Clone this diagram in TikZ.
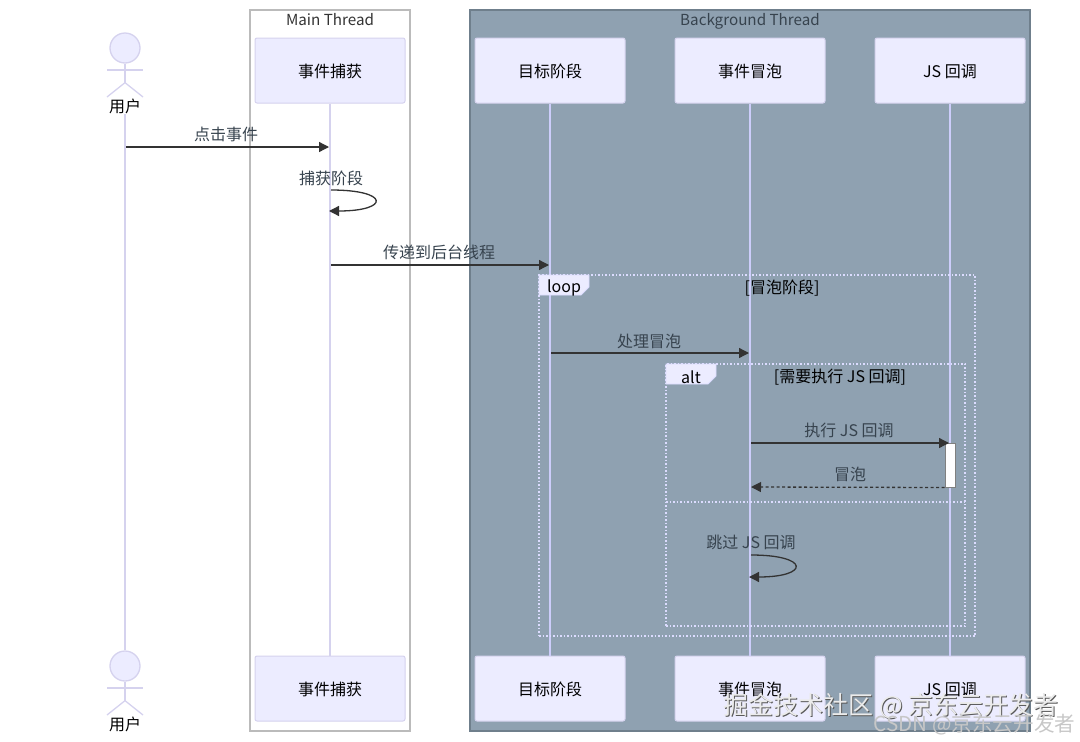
\documentclass[tikz,border=0pt]{standalone}
\usepackage{fontspec}
\usepackage{xcolor}
\usepackage{tikz}
\usetikzlibrary{arrows.meta,positioning,calc}
\setmainfont{Noto Sans CJK SC}
\definecolor{actorfill}{HTML}{ECECFF}
\definecolor{actorline}{HTML}{D5D2EE}
\definecolor{threadgray}{HTML}{BBBBBB}
\definecolor{threadfill}{HTML}{8FA1B1}
\definecolor{threadedge}{HTML}{6F7F8C}
\definecolor{lifeblue}{HTML}{CDCDFB}
\definecolor{frameblue}{HTML}{DCDCFF}
\definecolor{msgdark}{HTML}{333333}
\definecolor{msgtext}{HTML}{37434E}

\begin{document}
\begin{tikzpicture}[x=1pt,y=-1pt,
    txt/.style={inner sep=0pt,font=\fontsize{16}{18}\selectfont},
    titletxt/.style={inner sep=0pt,anchor=base,font=\fontsize{15.2}{18}\selectfont},
    stagebox/.style={txt,draw=actorline,line width=1pt,fill=actorfill,rounded corners=2pt,
        minimum width=150pt,minimum height=65pt,text=black,text depth=0pt},
    lifeline/.style={draw=lifeblue,line width=1.3pt},
    msg/.style={draw=msgdark,line width=1.3pt,-{Triangle[length=10pt,width=10pt]}},
    msgreply/.style={msg,dash pattern=on 3pt off 2.5pt},
    msglabel/.style={txt,text=msgtext},
    dotframe/.style={draw=frameblue,line width=1.5pt,dash pattern=on 1.5pt off 2pt},
    fragtag/.style={draw=frameblue,line width=0.8pt,fill=actorfill},
    stickman/.style={draw=actorline,line width=1.3pt},
    actorhead/.style={circle,draw=actorline,line width=1.3pt,fill=actorfill,minimum size=30pt,inner sep=0pt}
]
\useasboundingbox (0,0) rectangle (1080,742);

% thread panels
\node[draw=threadgray,line width=1.2pt,fill=white,minimum width=160pt,minimum height=721pt,inner sep=0pt] (mainpanel) at (330,370.5) {};
\node[draw=threadedge,line width=1.2pt,fill=threadfill,minimum width=560pt,minimum height=721pt,inner sep=0pt] (bgpanel) at (750,370.5) {};
\node[titletxt,text=msgdark] (maintitle) at (330,25) {Main Thread};
\node[titletxt,text=msgtext] (bgtitle) at (750,25) {Background Thread};

% top row
\node[actorhead] (userhead) at (125,48) {};
\node[txt,text=black] (usertop) at (125,106.5) {用户};
\node[stagebox] (capture) at (330,70.5) {事件捕获};
\node[stagebox] (target) at (550,70.5) {目标阶段};
\node[stagebox] (bubble) at (750,70.5) {事件冒泡};
\node[stagebox] (jscb) at (950,70.5) {JS 回调};

% bottom row
\node[actorhead] (userfoot) at (125,666) {};
\node[txt,text=black] (userbottom) at (125,724.5) {用户};
\node[stagebox] (capture2) at (330,688.5) {事件捕获};
\node[stagebox] (target2) at (550,688.5) {目标阶段};
\node[stagebox] (bubble2) at (750,688.5) {事件冒泡};
\node[stagebox] (jscb2) at (950,688.5) {JS 回调};

% stick figures
\draw[stickman] (userhead.south) -- ++(0,19) coordinate (hipA);
\draw[stickman] (107,70) -- (143,70);
\draw[stickman] (107,97) -- (hipA) -- (143,97);
\draw[stickman] (userfoot.south) -- ++(0,19) coordinate (hipB);
\draw[stickman] (107,688) -- (143,688);
\draw[stickman] (107,715) -- (hipB) -- (143,715);

% lifelines
\draw[lifeline,draw=actorline] (usertop.south) -- (userfoot.north);
\draw[lifeline,draw=actorline] (capture.south) -- (capture2.north);
\draw[lifeline] (target.south) -- (target2.north);
\draw[lifeline] (bubble.south) -- (bubble2.north);
\draw[lifeline] (jscb.south) -- (jscb2.north);

% loop and alt frames
\node[minimum width=436pt,minimum height=361pt,inner sep=0pt,dotframe] (loopframe) at (757,455.5) {};
\node[minimum width=299pt,minimum height=262pt,inner sep=0pt,dotframe] (altframe) at (815.5,495) {};
\coordinate (altsplitL) at (666,502);
\coordinate (altsplitR) at (965,502);
\draw[dotframe] (altsplitL) -- (altsplitR);
\draw[fragtag] (539,275) -- (589,275) -- (589,287) -- (581,295) -- (539,295) -- cycle;
\draw[fragtag] (666,364) -- (716,364) -- (716,376) -- (708,384) -- (666,384) -- cycle;
\node[txt,text=black] (looptag) at (564,288) {loop};
\node[txt,text=black] (alttag) at (691,377) {alt};
\node[txt,text=black] (loopcond) at (782,288) {[冒泡阶段]};
\node[txt,text=black] (altcond) at (840,377) {[需要执行 JS 回调]};

% messages
\coordinate (clickA) at (126,147);
\coordinate (clickB) at (329,147);
\draw[msg] (clickA) -- (clickB);
\node[msglabel] (clicktxt) at (226,134) {点击事件};

\coordinate (selfA) at (331,190);
\coordinate (selfB) at (329,211);
\draw[msg] (selfA) .. controls (390,190) and (390,211) .. (selfB);
\node[msglabel] (selftxt) at (331,178) {捕获阶段};

\coordinate (passA) at (331,265);
\coordinate (passB) at (549,265);
\draw[msg] (passA) -- (passB);
\node[msglabel] (passtxt) at (439,252) {传递到后台线程};

\coordinate (bubA) at (551,353);
\coordinate (bubB) at (749,353);
\draw[msg] (bubA) -- (bubB);
\node[msglabel] (bubtxt) at (649,341) {处理冒泡};

\node[draw=gray,line width=1pt,fill=white!95!actorfill,minimum width=10pt,minimum height=44pt,inner sep=0pt] (jsactive) at (950,465) {};
\coordinate (runA) at (751,443);
\coordinate (runB) at (949,443);
\draw[msg] (runA) -- (runB);
\node[msglabel] (runtxt) at (849,430) {执行 JS 回调};

\coordinate (backB) at (751,487);
\draw[msgreply] (jsactive.south west) -- (backB);
\node[msglabel] (backtxt) at (850,474) {冒泡};

\coordinate (skipA) at (751,555);
\coordinate (skipB) at (749,577);
\draw[msg] (skipA) .. controls (810,555) and (810,577) .. (skipB);
\node[msglabel] (skiptxt) at (751,542.5) {跳过 JS 回调};

% watermarks
\node[inner sep=0pt,font=\fontsize{25}{27}\selectfont,text=black!65] (marka) at (892,707) {掘金技术社区 @ 京东云开发者};
\node[inner sep=0pt,font=\fontsize{25}{27}\selectfont,text=white!92!black] (markb) at (891,706) {掘金技术社区 @ 京东云开发者};
\node[inner sep=0pt,font=\fontsize{20.6}{22}\selectfont,text=black!22] (markc) at (974.5,725) {CSDN @京东云开发者};
\end{tikzpicture}
\end{document}
